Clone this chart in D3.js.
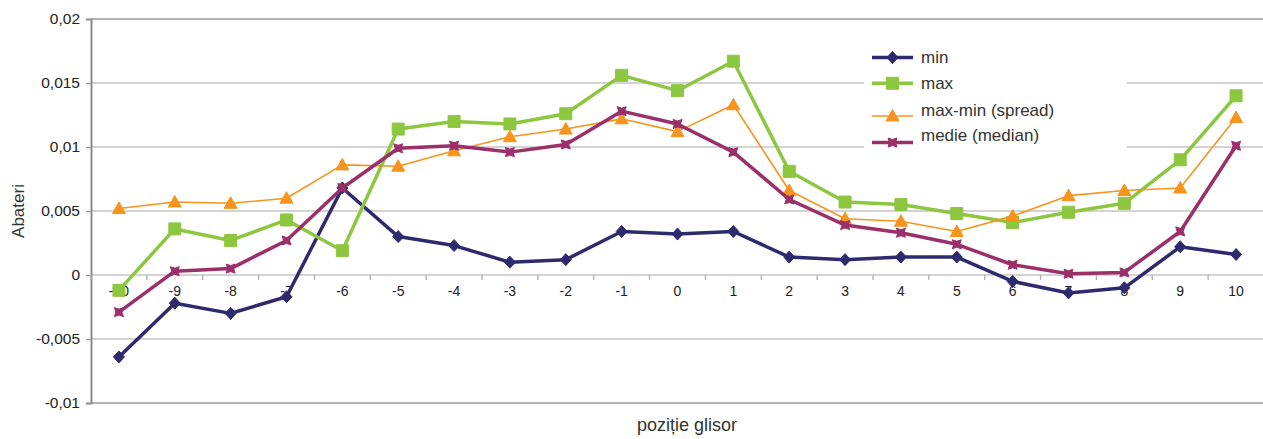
<!DOCTYPE html>
<html>
<head>
<meta charset="utf-8">
<script src="https://cdn.jsdelivr.net/npm/d3@7"></script>
<style>
  html, body { margin: 0; padding: 0; background: #fff; }
  svg { display: block; font-family: "Liberation Sans", Arial, sans-serif; }
</style>
</head>
<body>
<svg id="chart" width="1263" height="439"></svg>
<script>
// Slider positions
const positions = [-10, -9, -8, -7, -6, -5, -4, -3, -2, -1, 0, 1, 2, 3, 4, 5, 6, 7, 8, 9, 10];

// Deviations per slider position
const minValues = [-0.0064, -0.0022, -0.0030, -0.0017, 0.0068, 0.0030, 0.0023, 0.0010, 0.0012, 0.0034, 0.0032,
  0.0034, 0.0014, 0.0012, 0.0014, 0.0014, -0.0005, -0.0014, -0.0010, 0.0022, 0.0016];
const maxValues = [-0.0012, 0.0036, 0.0027, 0.0043, 0.0019, 0.0114, 0.0120, 0.0118, 0.0126, 0.0156, 0.0144,
  0.0167, 0.0081, 0.0057, 0.0055, 0.0048, 0.0041, 0.0049, 0.0056, 0.0090, 0.0140];
const spreadValues = [0.0052, 0.0057, 0.0056, 0.0060, 0.0086, 0.0085, 0.0097, 0.0108, 0.0114, 0.0122, 0.0112,
  0.0133, 0.0066, 0.0044, 0.0042, 0.0034, 0.0046, 0.0062, 0.0066, 0.0068, 0.0123];
const medianValues = [-0.0029, 0.0003, 0.0005, 0.0027, 0.0068, 0.0099, 0.0101, 0.0096, 0.0102, 0.0128, 0.0118,
  0.0096, 0.0059, 0.0039, 0.0033, 0.0024, 0.0008, 0.0001, 0.0002, 0.0034, 0.0101];

const seriesNames = ["min", "max", "max-min (spread)", "medie (median)"];
const yTicks = [-0.01, -0.005, 0, 0.005, 0.01, 0.015, 0.02];
const yTickLabels = ["-0,01", "-0,005", "0", "0,005", "0,01", "0,015", "0,02"];

const series = [
  { name: seriesNames[0], values: minValues, color: "#2f2a6e", width: 3.5, marker: "diamond" },
  { name: seriesNames[1], values: maxValues, color: "#8dc63f", width: 3.5, marker: "square" },
  { name: seriesNames[2], values: spreadValues, color: "#f7941d", width: 1.6, marker: "triangle" },
  { name: seriesNames[3], values: medianValues, color: "#9b2f69", width: 3.5, marker: "star" }
];

const svg = d3.select("#chart");
const plot = { left: 91, right: 1264, top: 19, bottom: 403 };

const x = d3.scaleBand().domain(positions).range([plot.left, plot.right]).padding(0);
const y = d3.scaleLinear().domain([-0.01, 0.02]).range([plot.bottom, plot.top]);
const cx = d => x(d) + x.bandwidth() / 2;

// Horizontal gridlines
svg.append("g").selectAll("line")
  .data(yTicks.filter(t => t !== 0.02 && t !== -0.01))
  .join("line")
  .attr("x1", plot.left).attr("x2", plot.right)
  .attr("y1", d => y(d)).attr("y2", d => y(d))
  .attr("stroke", "#c4c4c4").attr("stroke-width", 1.3);

// Top frame and bottom line
[0.02, -0.01].forEach(t => {
  svg.append("line")
    .attr("x1", plot.left).attr("x2", plot.right)
    .attr("y1", y(t)).attr("y2", y(t))
    .attr("stroke", "#9a9a9a").attr("stroke-width", 1.5);
});

// Y axis
const yAxis = d3.axisLeft(y).tickValues(yTicks).tickSize(5).tickPadding(6)
  .tickFormat((d, i) => yTickLabels[i]);
const gy = svg.append("g").attr("transform", `translate(${plot.left},0)`).call(yAxis);
gy.select(".domain").attr("stroke", "#8a8a8a").attr("stroke-width", 2);
gy.selectAll(".tick line").attr("stroke", "#9a9a9a").attr("stroke-width", 1.3);
gy.selectAll(".tick text").attr("font-size", 15.5).attr("fill", "#222")
  .attr("font-family", "'Liberation Sans', Arial, sans-serif");

// X axis along the zero line: ticks at category boundaries, labels below
const gx = svg.append("g").attr("transform", `translate(0,${y(0)})`);
gx.selectAll("line.tk")
  .data(d3.range(positions.length + 1))
  .join("line")
  .attr("class", "tk")
  .attr("x1", i => plot.left + i * x.step()).attr("x2", i => plot.left + i * x.step())
  .attr("y1", 0).attr("y2", 5)
  .attr("stroke", "#b0b0b0").attr("stroke-width", 1.3);
gx.selectAll("text")
  .data(positions)
  .join("text")
  .attr("x", d => cx(d))
  .attr("y", 21)
  .attr("text-anchor", "middle")
  .attr("font-size", 14)
  .attr("fill", "#222")
  .text(d => d);

// Axis titles
svg.append("text")
  .attr("transform", `translate(24,${(y(0.005) + 0)}) rotate(-90)`)
  .attr("text-anchor", "middle")
  .attr("font-size", 17)
  .attr("fill", "#333")
  .text("Abateri");

svg.append("text")
  .attr("x", 687).attr("y", 431)
  .attr("text-anchor", "middle")
  .attr("font-size", 18)
  .attr("fill", "#333")
  .text("poziție glisor");

// Marker shapes
function markerPath(type) {
  switch (type) {
    case "diamond": return "M0,-6L5.5,0L0,6L-5.5,0Z";
    case "square": return "M-6,-6H6V6H-6Z";
    case "triangle": return "M0,-6.5L6.5,5L-6.5,5Z";
    case "star": return "M-4.5,-4.5L0,-3L4.5,-4.5L3,0L4.5,4.5L0,3L-4.5,4.5L-3,0Z";
  }
}

const line = d3.line().x((d, i) => cx(positions[i])).y(d => y(d));

const gSeries = svg.append("g");
series.forEach(s => {
  const g = gSeries.append("g");
  g.append("path")
    .datum(s.values)
    .attr("d", line)
    .attr("fill", "none")
    .attr("stroke", s.color)
    .attr("stroke-width", s.width)
    .attr("stroke-linejoin", "round");
  g.selectAll("path.mk")
    .data(s.values)
    .join("path")
    .attr("class", "mk")
    .attr("transform", (d, i) => `translate(${cx(positions[i])},${y(d)})`)
    .attr("d", markerPath(s.marker))
    .attr("fill", s.color)
    .attr("stroke", s.color)
    .attr("stroke-width", 1);
});

// Legend
const legend = svg.append("g");
legend.append("rect")
  .attr("x", 864).attr("y", 34).attr("width", 263).attr("height", 122)
  .attr("fill", "#fff");
const lineRows = [57.5, 83.3, 116, 142.5];
const textRows = [57, 83, 110, 135];
series.forEach((s, i) => {
  legend.append("line")
    .attr("x1", 872).attr("x2", 913)
    .attr("y1", lineRows[i]).attr("y2", lineRows[i])
    .attr("stroke", s.color).attr("stroke-width", s.width);
  legend.append("path")
    .attr("transform", `translate(892.5,${lineRows[i]})`)
    .attr("d", markerPath(s.marker))
    .attr("fill", s.color).attr("stroke", s.color);
  legend.append("text")
    .attr("x", 921).attr("y", textRows[i])
    .attr("dy", "0.35em")
    .attr("font-size", 17)
    .attr("fill", "#333")
    .text(s.name);
});
</script>
</body>
</html>
